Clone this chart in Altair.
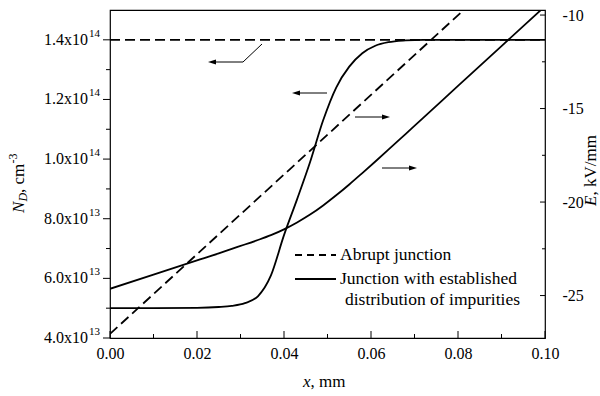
import altair as alt
import pandas as pd

# ---------------- data ----------------
x_grid = [0.000, 0.010, 0.020, 0.025, 0.028, 0.031, 0.034, 0.037, 0.040, 0.043, 0.046,
          0.049, 0.052, 0.055, 0.058, 0.061, 0.064, 0.068, 0.072, 0.080, 0.090, 0.100]
# N_D of the junction with established distribution (units of 1e13 cm^-3)
nd_established = [5.00, 5.00, 5.01, 5.04, 5.08, 5.17, 5.40, 6.10, 7.45, 8.65, 9.90,
                  11.30, 12.40, 13.10, 13.55, 13.80, 13.92, 13.98, 14.00, 14.00, 14.00, 14.00]
# E of the junction with established distribution (kV/mm)
e_established = [-24.64, -23.88, -23.12, -22.74, -22.50, -22.27, -22.03, -21.77, -21.46, -21.09, -20.67,
                 -20.18, -19.64, -19.06, -18.45, -17.83, -17.20, -16.35, -15.50, -13.79, -11.66, -9.53]
# abrupt junction
x_abrupt = [0.0, 0.1]
nd_abrupt = [14.0, 14.0]
e_abrupt = [-27.05, -5.75]

x_major = [0.0, 0.02, 0.04, 0.06, 0.08, 0.10]
x_minor = [0.01, 0.03, 0.05, 0.07, 0.09]
nd_major = [4, 6, 8, 10, 12, 14]
nd_minor = [5, 7, 9, 11, 13]
nd_label_main = ["4.0x10", "6.0x10", "8.0x10", "1.0x10", "1.2x10", "1.4x10"]
nd_label_sup = ["13", "13", "13", "14", "14", "14"]
e_major = [-25, -20, -15, -10]
e_minor = [-22.5, -17.5, -12.5]

legend_labels = ["Abrupt junction", "Junction with established", "distribution of impurities"]

# ---------------- layout ----------------
W, H = 435, 328
FONT = "Liberation Serif"
FS = 16

xs = alt.Scale(domain=[0, 0.1], nice=False, zero=False)
ns = alt.Scale(domain=[4, 15], nice=False, zero=False)
es = alt.Scale(domain=[-27.27, -9.73], nice=False, zero=False)

df_est = pd.DataFrame({"x": x_grid, "nd": nd_established, "e": e_established})
df_abr = pd.DataFrame({"x": x_abrupt, "nd": nd_abrupt, "e": e_abrupt})
dummy = pd.DataFrame({"a": [1]})

x_axis = alt.Axis(values=x_major, format=".2f", labelFont=FONT, labelFontSize=FS,
                  labelColor="black", ticks=False, domain=False, grid=False,
                  labelPadding=7, title=None, labelFlush=False)
x_enc = alt.X("x:Q", scale=xs, axis=x_axis)

e_axis = alt.Axis(orient="right", values=e_major, labelExpr="toString(datum.value)",
                  labelFont=FONT, labelFontSize=FS, labelColor="black", ticks=False,
                  domain=False, grid=False, labelPadding=17, title=None)


def ey(field):
    return alt.Y(field, scale=es, axis=e_axis)


def ny(field):
    return alt.Y(field, scale=ns, axis=None)


# ----- N_D group (left axis) -----
nd_abr = alt.Chart(df_abr).mark_line(color="black", strokeWidth=1.8, strokeDash=[10, 5], clip=True).encode(
    x=x_enc, y=ny("nd:Q"))
nd_est = alt.Chart(df_est).mark_line(color="black", strokeWidth=1.8, interpolate="monotone", clip=True).encode(
    x=x_enc, y=ny("nd:Q"))

df_ndmaj = pd.DataFrame({"v": nd_major, "main": nd_label_main, "sup": nd_label_sup})
df_ndmin = pd.DataFrame({"v": nd_minor})
nd_tmaj = alt.Chart(df_ndmaj).mark_rule(color="black", strokeWidth=1).encode(
    x=alt.value(-7), x2=alt.value(0), y=ny("v:Q"))
nd_tmin = alt.Chart(df_ndmin).mark_rule(color="black", strokeWidth=1).encode(
    x=alt.value(-4), x2=alt.value(0), y=ny("v:Q"))
nd_lab = alt.Chart(df_ndmaj).mark_text(font=FONT, fontSize=FS, align="right", baseline="middle",
                                        color="black").encode(
    x=alt.value(-22), y=ny("v:Q"), text="main:N")
nd_sup = alt.Chart(df_ndmaj).mark_text(font=FONT, fontSize=11, align="left", baseline="middle",
                                        color="black", dy=-6).encode(
    x=alt.value(-21), y=ny("v:Q"), text="sup:N")

nd_group = alt.layer(nd_abr, nd_est, nd_tmaj, nd_tmin, nd_lab, nd_sup)

# ----- E group (right axis) -----
e_abr = alt.Chart(df_abr).mark_line(color="black", strokeWidth=1.8, strokeDash=[10, 5], clip=True).encode(
    x=x_enc, y=ey("e:Q"))
e_est = alt.Chart(df_est).mark_line(color="black", strokeWidth=1.8, interpolate="monotone", clip=True).encode(
    x=x_enc, y=ey("e:Q"))
df_emaj = pd.DataFrame({"v": e_major})
df_emin = pd.DataFrame({"v": e_minor})
e_tmaj = alt.Chart(df_emaj).mark_rule(color="black", strokeWidth=1).encode(
    x=alt.value(W - 5), x2=alt.value(W), y=ey("v:Q"))
e_tmin = alt.Chart(df_emin).mark_rule(color="black", strokeWidth=1).encode(
    x=alt.value(W - 3), x2=alt.value(W), y=ey("v:Q"))
e_group = alt.layer(e_abr, e_est, e_tmaj, e_tmin)

# ----- bottom ticks (inward) -----
df_xmaj = pd.DataFrame({"x": x_major})
df_xmin = pd.DataFrame({"x": x_minor})
x_tmaj = alt.Chart(df_xmaj).mark_rule(color="black", strokeWidth=1).encode(
    x=x_enc, y=alt.value(H - 7), y2=alt.value(H))
x_tmin = alt.Chart(df_xmin).mark_rule(color="black", strokeWidth=1).encode(
    x=x_enc, y=alt.value(H - 4), y2=alt.value(H))


# ----- annotations -----
def seg(x1, y1, x2, y2, dash=None, sw=1):
    kw = dict(color="black", strokeWidth=sw)
    if dash:
        kw["strokeDash"] = dash
    return alt.Chart(dummy).mark_rule(**kw).encode(
        x=alt.value(x1), x2=alt.value(x2), y=alt.value(y1), y2=alt.value(y2))


LEFT_HEAD = "M -1 0 L 1 -0.6 L 1 0.6 Z"
RIGHT_HEAD = "M 1 0 L -1 -0.6 L -1 0.6 Z"


def head(px, py, path):
    return alt.Chart(dummy).mark_point(shape=path, filled=True, size=64, color="black",
                                       opacity=1, strokeWidth=0).encode(
        x=alt.value(px), y=alt.value(py))


def txt(s, px, py, size=FS, italic=False, angle=0, align="left"):
    kw = dict(font=FONT, fontSize=size, align=align, baseline="middle", color="black", text=s)
    if italic:
        kw["fontStyle"] = "italic"
    if angle:
        kw["angle"] = angle
    return alt.Chart(dummy).mark_text(**kw).encode(x=alt.value(px), y=alt.value(py))


LFS = 17.5
ann = [
    # arrow to the abrupt N_D line
    seg(102, 52, 133, 52), seg(133, 52, 152, 34), head(102, 52, LEFT_HEAD),
    # arrow: sigmoid -> left axis
    seg(186, 83, 217, 83), head(186, 83, LEFT_HEAD),
    # arrow: dashed E -> right axis
    seg(245, 107, 276, 107), head(276, 107, RIGHT_HEAD),
    # arrow: solid E -> right axis
    seg(272, 158, 303, 158), head(303, 158, RIGHT_HEAD),
    # legend
    seg(185, 245, 226, 245, dash=[7, 5], sw=1.8), seg(185, 269, 226, 269, sw=1.8),
    txt(legend_labels[0], 230, 245, size=LFS), txt(legend_labels[1], 230, 269, size=LFS),
    txt(legend_labels[2], 235, 290, size=LFS),
    # x title
    txt("x", 193, 372, size=17, italic=True), txt(",  mm", 200.5, 372, size=17),
    # left title (rotated)
    txt("N", -91, 203, size=17, italic=True, angle=270),
    txt("D", -87, 191.5, size=12, italic=True, angle=270),
    txt(", cm", -91, 183, size=17, angle=270),
    txt("-3", -97, 153.5, size=12, angle=270),
    # right title (rotated)
    txt("E", 481, 196, size=17, italic=True, angle=270),
    txt(",  kV/mm", 481, 185.5, size=17, angle=270),
]

chart = alt.layer(nd_group, e_group, x_tmaj, x_tmin, *ann).resolve_scale(y="independent").properties(
    width=W, height=H,
    background="white",
    autosize=alt.AutoSizeParams(type="none"),
    padding={"left": 110, "top": 10, "right": 55, "bottom": 58},
).configure_view(stroke="black", strokeWidth=1.2)

chart.save("out.html", embed_options={"renderer": "svg", "actions": False})
